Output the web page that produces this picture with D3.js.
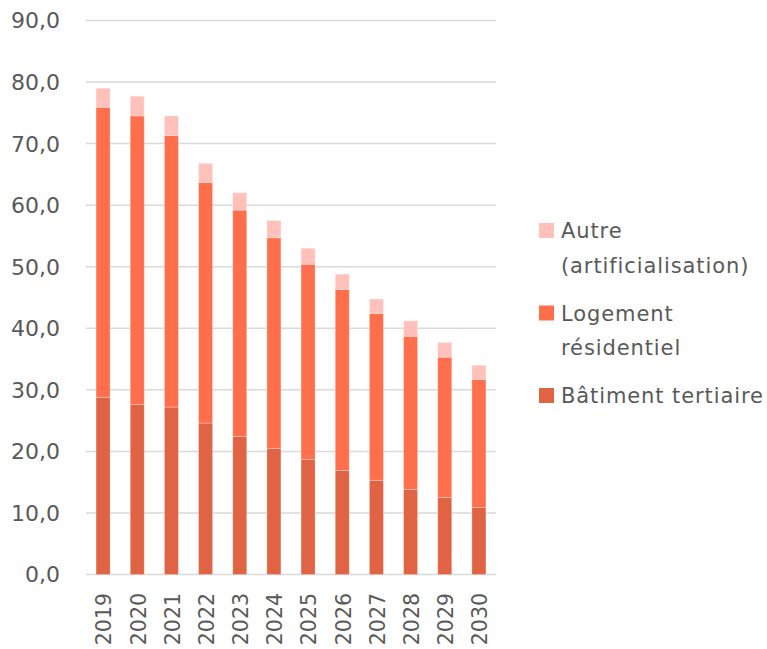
<!DOCTYPE html>
<html lang="fr">
<head>
    <meta charset="UTF-8">
    <title>Consommation par secteur</title>
    <script src="https://d3js.org/d3.v7.min.js"></script>
    <style>
        body {
            margin: 0;
            background: #fff;
            font-family: "DejaVu Sans", Arial, sans-serif;
        }
        text {
            fill: #595959;
        }
    </style>
</head>
<body>
    <div id="chart"></div>
    <script>
        const years = ["2019", "2020", "2021", "2022", "2023", "2024", "2025", "2026", "2027", "2028", "2029", "2030"];
        const tertiaire = [28.8, 27.6, 27.2, 24.6, 22.4, 20.5, 18.7, 16.9, 15.3, 13.8, 12.5, 10.9];
        const logement = [47.1, 46.9, 44.1, 39.1, 36.8, 34.2, 31.7, 29.4, 27.1, 24.9, 22.8, 20.8];
        const autre = [3.1, 3.2, 3.2, 3.1, 2.8, 2.8, 2.6, 2.5, 2.35, 2.5, 2.4, 2.3];
        const yTicks = [0, 10, 20, 30, 40, 50, 60, 70, 80, 90];

        const series = [
            { key: "tertiaire", label: ["Bâtiment tertiaire"], values: tertiaire, color: "#e06343" },
            { key: "logement", label: ["Logement", "résidentiel"], values: logement, color: "#ff6f4c" },
            { key: "autre", label: ["Autre", "(artificialisation)"], values: autre, color: "#ffc1ba" }
        ];

        const width = 767, height = 649;
        const margin = { left: 86, right: 271, top: 20.5, bottom: 74.5 };

        const table = years.map((y, i) => {
            const row = { year: y };
            series.forEach(s => row[s.key] = s.values[i]);
            return row;
        });

        const stack = d3.stack().keys(series.map(s => s.key));
        const stacked = stack(table);

        const x = d3.scaleBand()
            .domain(years)
            .range([margin.left, width - margin.right])
            .paddingInner(0.59)
            .paddingOuter(0.295);

        const y = d3.scaleLinear()
            .domain([0, 90])
            .range([height - margin.bottom, margin.top]);

        const svg = d3.select("#chart")
            .append("svg")
            .attr("width", width)
            .attr("height", height);

        // grille
        svg.append("g")
            .selectAll("line")
            .data(yTicks)
            .enter()
            .append("line")
            .attr("x1", margin.left)
            .attr("x2", width - margin.right)
            .attr("y1", d => y(d))
            .attr("y2", d => y(d))
            .attr("stroke", "#d9d9d9")
            .attr("stroke-width", 1.5);

        // labels axe y
        svg.append("g")
            .selectAll("text")
            .data(yTicks)
            .enter()
            .append("text")
            .attr("x", 60)
            .attr("y", d => y(d))
            .attr("dy", "0.36em")
            .attr("text-anchor", "end")
            .style("font-size", "22px")
            .text(d => d.toFixed(1).replace(".", ","));

        // barres
        svg.append("g")
            .selectAll("g")
            .data(stacked)
            .enter()
            .append("g")
            .attr("fill", (d, i) => series[i].color)
            .selectAll("rect")
            .data(d => d)
            .enter()
            .append("rect")
            .attr("x", d => x(d.data.year))
            .attr("width", x.bandwidth())
            .attr("y", d => y(d[1]))
            .attr("height", d => y(d[0]) - y(d[1]))
            .attr("stroke", "rgba(255,255,255,0.35)")
            .attr("stroke-width", 0.8);

        // labels axe x
        svg.append("g")
            .selectAll("text")
            .data(years)
            .enter()
            .append("text")
            .attr("transform", d => `translate(${x(d) + x.bandwidth() / 2 + 1}, 593) rotate(-90)`)
            .attr("dy", "0.36em")
            .attr("text-anchor", "end")
            .style("font-size", "20.5px")
            .text(d => d);

        // légende
        const legendItems = [
            { s: series[2], top: 223 },
            { s: series[1], top: 305.5 },
            { s: series[0], top: 388 }
        ];
        const legend = svg.append("g");
        legendItems.forEach(item => {
            legend.append("rect")
                .attr("x", 539)
                .attr("y", item.top)
                .attr("width", 15)
                .attr("height", 15)
                .attr("fill", item.s.color);
            const t = legend.append("text")
                .attr("x", 561)
                .attr("y", item.top + 15)
                .style("font-size", "21px")
                .style("letter-spacing", "0.9px");
            item.s.label.forEach((line, j) => {
                t.append("tspan")
                    .attr("x", 561)
                    .attr("dy", j === 0 ? 0 : 34.5)
                    .text(line);
            });
        });
    </script>
</body>
</html>
